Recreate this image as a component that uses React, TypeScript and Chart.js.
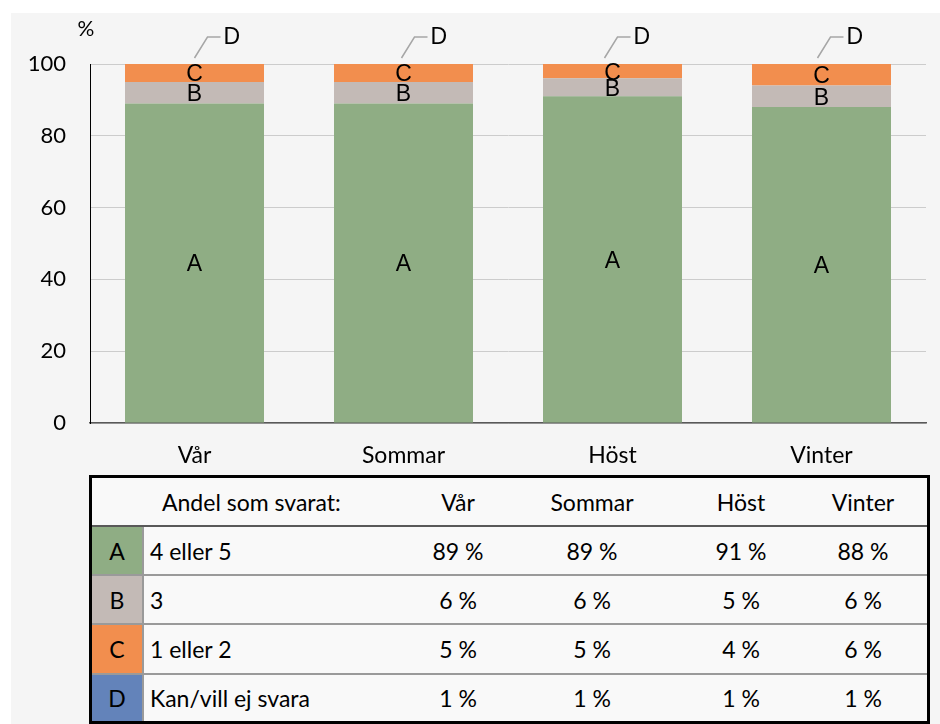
import React, { useEffect, useRef } from "react";
import { Chart, registerables } from "chart.js";

Chart.register(...registerables);

// ---- data ----
const seasons = ["Vår", "Sommar", "Höst", "Vinter"];
const shareA = [89, 89, 91, 88];
const shareB = [6, 6, 5, 6];
const shareC = [5, 5, 4, 6];
const shareD = [1, 1, 1, 1];
const seriesLetters = ["A", "B", "C", "D"];
const seriesNames = ["4 eller 5", "3", "1 eller 2", "Kan/vill ej svara"];
const seriesColors = ["#8fad84", "#c3bab6", "#f28e4e", "#6383ba"];
const yTickStep = 20;
const yMax = 100;
const unitLabel = "%";
const tableHeading = "Andel som svarat:";

// style: horizontal shift of the "D" callout label from bar centre
const dCalloutShift = [30, 28, 22, 26];

const seriesValues = [shareA, shareB, shareC, shareD];

const CAL = "Lato, 'Open Sans', sans-serif";
const ARIAL = "'Liberation Sans', Arial, sans-serif";

const labelPlugin = {
  id: "segmentLabels",
  afterDatasetsDraw(chart: any) {
    const ctx = chart.ctx;
    const area = chart.chartArea;
    ctx.save();
    ctx.fillStyle = "#000";
    ctx.textAlign = "center";
    ctx.textBaseline = "middle";
    ctx.font = `23px ${ARIAL}`;
    for (let i = 0; i < 3; i++) {
      const meta = chart.getDatasetMeta(i);
      meta.data.forEach((bar: any) => {
        const p = bar.getProps(["x", "y", "base"], true);
        ctx.fillText(seriesLetters[i], p.x, (p.y + p.base) / 2 + 2);
      });
    }
    // D callouts
    const metaD = chart.getDatasetMeta(3);
    metaD.data.forEach((bar: any, j: number) => {
      const p = bar.getProps(["x", "y"], true);
      const s = dCalloutShift[j];
      const x0 = p.x + s - 30;
      const y0 = area.top - 6;
      const x1 = x0 + 13;
      const y1 = area.top - 27;
      const x2 = x1 + 13;
      ctx.strokeStyle = "#a6a6a6";
      ctx.lineWidth = 1.5;
      ctx.beginPath();
      ctx.moveTo(x0, y0);
      ctx.lineTo(x1, y1);
      ctx.lineTo(x2, y1);
      ctx.stroke();
      ctx.textAlign = "left";
      ctx.fillText(seriesLetters[3], x2 + 3, y1 + 1);
    });
    // unit label
    ctx.textAlign = "center";
    ctx.font = `21px ${CAL}`;
    ctx.fillText(unitLabel, area.left - 4, area.top - 35);
    ctx.restore();
  },
};

function ChartPart() {
  const ref = useRef<HTMLCanvasElement | null>(null);
  useEffect(() => {
    if (!ref.current) return;
    const chart = new Chart(ref.current, {
      type: "bar",
      data: {
        labels: seasons,
        datasets: seriesValues.map((vals, i) => ({
          label: seriesLetters[i],
          data: vals,
          backgroundColor: seriesColors[i],
          borderWidth: 0,
          stack: "s",
          clip: 0,
          barPercentage: 0.665,
          categoryPercentage: 1,
        })),
      },
      options: {
        animation: false,
        responsive: false,
        maintainAspectRatio: false,
        layout: { padding: { top: 64, right: 14, left: 0, bottom: 0 } },
        plugins: { legend: { display: false }, tooltip: { enabled: false } },
        scales: {
          x: {
            stacked: true,
            grid: { display: false, drawTicks: false },
            border: { display: true, color: "#595959", width: 1.5 },
            ticks: { color: "#000", font: { family: CAL, size: 23 }, padding: 19 },
            afterFit: (s: any) => {
              s.height = 47;
              s.paddingLeft = 0;
              s.paddingRight = 0;
            },
          },
          y: {
            stacked: true,
            min: 0,
            max: yMax,
            grid: { color: "#cccccc", drawTicks: false, lineWidth: 1 },
            border: { display: true, color: "#000", width: 1 },
            ticks: {
              stepSize: yTickStep,
              color: "#000",
              font: { family: CAL, size: 22 },
              padding: 24,
            },
            afterFit: (s: any) => {
              s.width = 90;
              s.paddingTop = 0;
              s.paddingBottom = 0;
            },
          },
        },
      } as any,
      plugins: [labelPlugin],
    });
    return () => chart.destroy();
  }, []);
  return (
    <canvas
      ref={ref}
      width={940}
      height={470}
      style={{ position: "absolute", left: 0, top: 0, width: 940, height: 470 }}
    />
  );
}

const valueCenters = [458, 592, 741, 863]; // style: column centres
const TL = 89;

function TablePart() {
  const rowH = [47, 47, 47, 48, 46];
  const lineColor = "#9a9a9a";
  const textStyle: React.CSSProperties = {
    position: "absolute",
    top: 0,
    bottom: 0,
    display: "flex",
    alignItems: "center",
    fontFamily: CAL,
    fontSize: 23,
    color: "#000",
    whiteSpace: "nowrap",
  };
  const centered = (x: number, text: string, key: string) => (
    <div key={key} style={{ ...textStyle, left: x - TL - 3 - 60, width: 120, justifyContent: "center" }}>
      {text}
    </div>
  );
  return (
    <div
      style={{
        position: "absolute",
        left: TL,
        top: 475,
        width: 841,
        height: 249,
        border: "3px solid #000",
        boxSizing: "border-box",
        background: "#f9f9f9",
      }}
    >
      <div style={{ position: "relative", height: rowH[0], borderBottom: "2px solid #595959" }}>
        <div style={{ ...textStyle, left: 162 - TL - 3 }}>{tableHeading}</div>
        {seasons.map((s, j) => centered(valueCenters[j], s, "h" + j))}
      </div>
      {seriesLetters.map((letter, i) => (
        <div
          key={letter}
          style={{
            position: "relative",
            height: rowH[i + 1],
            borderBottom: i < 3 ? `2px solid ${lineColor}` : "none",
          }}
        >
          <div
            style={{
              position: "absolute",
              left: 0,
              top: 0,
              bottom: 0,
              width: 50,
              background: seriesColors[i],
              borderRight: `2px solid ${lineColor}`,
              display: "flex",
              alignItems: "center",
              justifyContent: "center",
              fontFamily: CAL,
              fontSize: 23,
            }}
          >
            {letter}
          </div>
          <div style={{ ...textStyle, left: 150 - TL - 3 }}>{seriesNames[i]}</div>
          {seriesValues[i].map((v, j) => centered(valueCenters[j], `${v} %`, letter + j))}
        </div>
      ))}
    </div>
  );
}

export default function App() {
  return (
    <div style={{ position: "fixed", left: 0, top: 0, width: 940, height: 724, overflow: "hidden", background: "#fff" }}>
      <div style={{ position: "absolute", left: 11, top: 13, right: 0, bottom: 0, background: "#f5f5f5" }} />
      <ChartPart />
      <TablePart />
    </div>
  );
}
